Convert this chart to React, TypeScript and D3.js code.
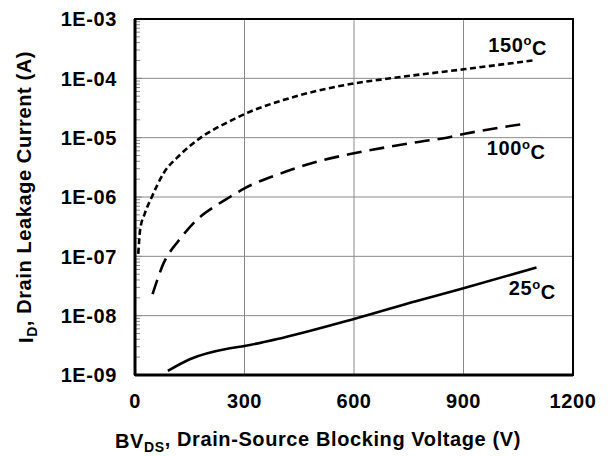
import * as d3 from 'd3';
import { useEffect, useRef } from 'react';

// (V, A)
const volts150 = [9, 14, 27, 46, 78, 123, 180, 260, 300, 406, 600, 700, 900, 1090];
const leak150 = [1.1e-7, 2.8e-7, 5.3e-7, 1.0e-6, 2.5e-6, 5.1e-6, 1.0e-5, 1.9e-5, 2.5e-5, 4.3e-5, 8.2e-5, 1.0e-4, 1.42e-4, 2.0e-4];

const volts100 = [48, 64, 78, 88, 114, 169, 224, 260, 300, 400, 516, 600, 781, 854, 900, 1077];
const leak100 = [2.3e-8, 4.5e-8, 7.6e-8, 1.0e-7, 1.66e-7, 4.1e-7, 7.3e-7, 1.0e-6, 1.4e-6, 2.5e-6, 4.2e-6, 5.45e-6, 8.55e-6, 1.0e-5, 1.15e-5, 1.75e-5];

const volts25 = [90, 150, 260, 300, 406, 600, 772, 900, 1100];
const leak25 = [1.17e-9, 1.84e-9, 2.82e-9, 3.08e-9, 4.26e-9, 8.8e-9, 1.77e-8, 2.89e-8, 6.5e-8];

const xTicks = [0, 300, 600, 900, 1200];
const yTicks = [1e-9, 1e-8, 1e-7, 1e-6, 1e-5, 1e-4, 1e-3];
const seriesLabels = ['150', '100', '25'];
// label anchor (right end, baseline) in data units
const labelVolts = [1129, 1125, 1153];
const labelLeak = [2.8e-4, 5.1e-6, 2.23e-8];

const width = 610;
const height = 456;
const margin = { top: 19, right: 37, bottom: 81, left: 135 };
const font = '"Liberation Sans", Arial, Helvetica, sans-serif';

export default function App() {
  const svgRef = useRef<SVGSVGElement | null>(null);

  useEffect(() => {
    const svg = d3.select(svgRef.current);
    svg.selectAll('*').remove();

    const innerWidth = width - margin.left - margin.right;
    const innerHeight = height - margin.top - margin.bottom;

    const x = d3.scaleLinear().domain([0, 1200]).range([0, innerWidth]);
    const y = d3.scaleLog().domain([1e-9, 1e-3]).range([innerHeight, 0]);

    const g = svg.append('g').attr('transform', `translate(${margin.left},${margin.top})`);

    // grid
    g.selectAll('.vgrid')
      .data(xTicks.slice(1, -1))
      .enter()
      .append('line')
      .attr('x1', (d) => x(d)).attr('x2', (d) => x(d))
      .attr('y1', 0).attr('y2', innerHeight)
      .attr('stroke', '#8a8a8a').attr('stroke-width', 1);

    g.selectAll('.hgrid')
      .data(yTicks.slice(1, -1))
      .enter()
      .append('line')
      .attr('x1', 0).attr('x2', innerWidth)
      .attr('y1', (d) => y(d)).attr('y2', (d) => y(d))
      .attr('stroke', '#8a8a8a').attr('stroke-width', 1);

    // minor log ticks on left axis
    const minors: number[] = [];
    for (let e = -9; e < -3; e++) {
      for (let m = 2; m <= 9; m++) minors.push(m * Math.pow(10, e));
    }
    g.selectAll('.minor')
      .data(minors)
      .enter()
      .append('line')
      .attr('x1', 0).attr('x2', 5)
      .attr('y1', (d) => y(d)).attr('y2', (d) => y(d))
      .attr('stroke', '#8a8a8a').attr('stroke-width', 1);
    g.selectAll('.major')
      .data(yTicks)
      .enter()
      .append('line')
      .attr('x1', 0).attr('x2', 7)
      .attr('y1', (d) => y(d)).attr('y2', (d) => y(d))
      .attr('stroke', '#8a8a8a').attr('stroke-width', 1);

    // frame
    g.append('rect')
      .attr('x', 0).attr('y', 0)
      .attr('width', innerWidth).attr('height', innerHeight)
      .attr('fill', 'none').attr('stroke', '#000').attr('stroke-width', 2);
    g.append('line')
      .attr('x1', 0).attr('x2', 0).attr('y1', 0).attr('y2', innerHeight)
      .attr('stroke', '#000').attr('stroke-width', 3);
    g.append('line')
      .attr('x1', 0).attr('x2', innerWidth).attr('y1', innerHeight).attr('y2', innerHeight)
      .attr('stroke', '#000').attr('stroke-width', 3);

    const styleText = (sel: d3.Selection<SVGTextElement, any, any, any>, size = 20) =>
      sel.style('font-family', font)
        .style('font-weight', 'bold')
        .style('font-size', `${size}px`)
        .style('letter-spacing', '0.6px');

    // tick labels
    g.selectAll('.ylab')
      .data(yTicks)
      .enter()
      .append('text')
      .attr('x', -18)
      .attr('y', (d) => y(d))
      .attr('dy', '0.36em')
      .attr('text-anchor', 'end')
      .call(styleText)
      .text((d) => {
        const e = Math.round(Math.log10(d));
        return `1E-${String(-e).padStart(2, '0')}`;
      });

    g.selectAll('.xlab')
      .data(xTicks)
      .enter()
      .append('text')
      .attr('x', (d) => x(d))
      .attr('y', innerHeight + 33)
      .attr('text-anchor', 'middle')
      .call(styleText)
      .text((d) => String(d));

    // curves
    const line = d3.line<[number, number]>()
      .x((d) => x(d[0]))
      .y((d) => y(d[1]))
      .curve(d3.curveMonotoneX);

    const series = [
      { v: volts150, i: leak150, dash: '6,3.5' },
      { v: volts100, i: leak100, dash: '15,8' },
      { v: volts25, i: leak25, dash: null },
    ];
    series.forEach((s) => {
      const pts = s.v.map((v, k) => [v, s.i[k]] as [number, number]);
      const p = g.append('path')
        .datum(pts)
        .attr('fill', 'none')
        .attr('stroke', '#000')
        .attr('stroke-width', 2.6)
        .attr('d', line);
      if (s.dash) p.attr('stroke-dasharray', s.dash);
    });

    // series labels
    seriesLabels.forEach((lab, k) => {
      const t = g.append('text')
        .attr('x', x(labelVolts[k]))
        .attr('y', y(labelLeak[k]))
        .attr('text-anchor', 'end')
        .call(styleText);
      t.append('tspan').text(lab);
      t.append('tspan').attr('dy', '-0.5em').style('font-size', '13px').text('o');
      t.append('tspan').attr('dy', '0.5em').text('C');
    });

    // axis titles
    const xt = svg.append('text')
      .attr('x', margin.left + innerWidth / 2 - 36)
      .attr('y', height - 8)
      .attr('text-anchor', 'middle')
      .call(styleText);
    xt.append('tspan').text('BV');
    xt.append('tspan').attr('dy', '0.3em').style('font-size', '14px').text('DS');
    xt.append('tspan').attr('dy', '-0.3em').text(', Drain-Source Blocking Voltage (V)');

    const yt = svg.append('text')
      .attr('transform', `translate(33,${margin.top + innerHeight / 2}) rotate(-90)`)
      .attr('text-anchor', 'middle')
      .call(styleText);
    yt.append('tspan').text('I');
    yt.append('tspan').attr('dy', '0.3em').style('font-size', '14px').text('D');
    yt.append('tspan').attr('dy', '-0.3em').text(', Drain Leakage Current (A)');
  }, []);

  return (
    <svg
      ref={svgRef}
      width={width}
      height={height}
      style={{ position: 'absolute', left: 0, top: 0, background: '#fff' }}
    />
  );
}
